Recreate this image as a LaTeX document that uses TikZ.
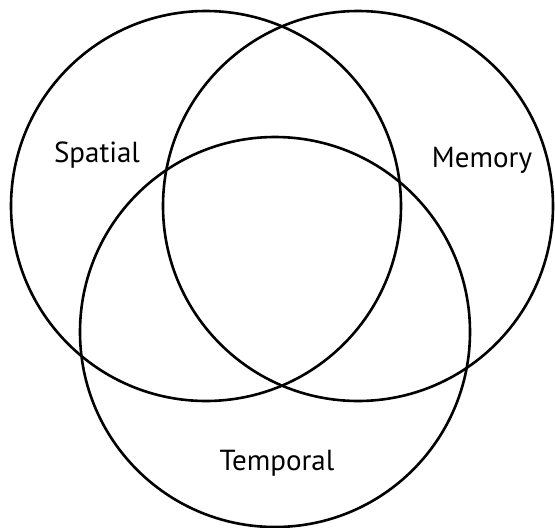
\documentclass[tikz,border=0pt]{standalone}
\usepackage{fontspec}
\setmainfont{PT Sans}
\usepackage{tikz}
\usetikzlibrary{positioning}

\begin{document}
\begin{tikzpicture}[
    x=1pt, y=-1pt,
    every node/.style={font=\fontsize{29}{34}\selectfont, align=center},
    ring/.style={draw=black, line width=2.6pt, circle, minimum size=390pt, inner sep=0pt},
    tag/.style={inner sep=1pt}
  ]
  \useasboundingbox (0,0) rectangle (555,528);

  % three overlapping sets
  \node[ring] (spatial)  at (206,206) {};
  \node[ring] (memory)   at (358,206) {};
  \node[ring] (temporal) at (275,332) {};

  \node[tag] (lspatial)  at (97,155)  {Spatial};
  \node[tag] (lmemory)   at (482,160) {Memory};
  \node[tag] (ltemporal) at (277,463) {Temporal};

\end{tikzpicture}
\end{document}
